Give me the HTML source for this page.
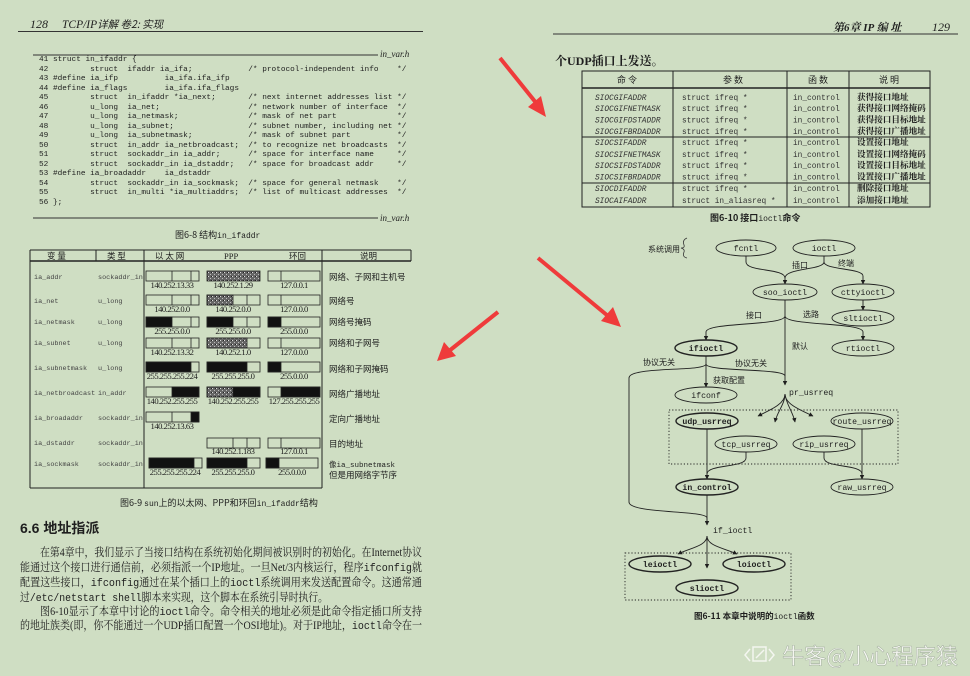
<!DOCTYPE html>
<html><head><meta charset="utf-8">
<style>
html,body{margin:0;padding:0}
body{width:970px;height:676px;background:#cfdec3;position:relative;overflow:hidden;font-family:"Liberation Serif","Noto Serif CJK SC",serif;color:#1e1e1e}
pre{position:absolute;margin:0;font-family:"Liberation Mono",monospace;font-size:7.75px;line-height:9.5px;color:#1e1e1e}
svg{position:absolute;left:0;top:0}
</style></head><body>
<pre style="left:39px;top:56px">41 struct in_ifaddr {
42         struct  ifaddr ia_ifa;            /* protocol-independent info    */
43 #define ia_ifp          ia_ifa.ifa_ifp
44 #define ia_flags        ia_ifa.ifa_flags
45         struct  in_ifaddr *ia_next;       /* next internet addresses list */
46         u_long  ia_net;                   /* network number of interface  */
47         u_long  ia_netmask;               /* mask of net part             */
48         u_long  ia_subnet;                /* subnet number, including net */
49         u_long  ia_subnetmask;            /* mask of subnet part          */
50         struct  in_addr ia_netbroadcast;  /* to recognize net broadcasts  */
51         struct  sockaddr_in ia_addr;      /* space for interface name     */
52         struct  sockaddr_in ia_dstaddr;   /* space for broadcast addr     */
53 #define ia_broadaddr    ia_dstaddr
54         struct  sockaddr_in ia_sockmask;  /* space for general netmask    */
55         struct  in_multi *ia_multiaddrs;  /* list of multicast addresses  */
56 };</pre>
<svg width="970" height="676" viewBox="0 0 970 676" xmlns="http://www.w3.org/2000/svg">
<defs>
<marker id="ar" viewBox="0 0 10 10" refX="9" refY="5" markerWidth="5" markerHeight="5" orient="auto"><path d="M0,0 L10,5 L0,10 z" fill="#1e1e1e"/></marker>
<pattern id="st" width="4" height="4" patternUnits="userSpaceOnUse"><rect width="4" height="4" fill="#666"/><rect x="0" y="0" width="1" height="1" fill="#ddd"/><rect x="2" y="2" width="1" height="1" fill="#bbb"/><rect x="3" y="0" width="1" height="1" fill="#222"/></pattern>
</defs>
<g font-family="Liberation Serif,Noto Serif CJK SC,serif" fill="#1e1e1e">
<text x="30" y="28" font-size="12" font-style="italic">128</text>
<text x="62" y="28" font-size="11.5" font-style="italic">TCP/IP<tspan font-family="Noto Sans CJK SC,sans-serif" font-size="10.5">详解  卷2: 实现</tspan></text>
<line x1="18" y1="31.5" x2="423" y2="31.5" stroke="#333" stroke-width="1"/>
<line x1="33" y1="55" x2="378" y2="55" stroke="#333" stroke-width="1"/>
<text x="380" y="57" font-size="9" font-style="italic">in_var.h</text>
<line x1="33" y1="218" x2="378" y2="218" stroke="#333" stroke-width="1"/>
<text x="380" y="221" font-size="9" font-style="italic">in_var.h</text>
<text x="175" y="238" font-size="9" font-family="Noto Sans CJK SC,sans-serif">图6-8  结构<tspan font-family="Liberation Mono,monospace" font-size="8">in_ifaddr</tspan></text>

<g stroke="#222" fill="none" stroke-width="1">
<line x1="30" y1="250" x2="411" y2="250"/>
<line x1="30" y1="261" x2="411" y2="261" stroke-width="1.6"/>
<line x1="30" y1="250" x2="30" y2="488"/>
<line x1="96" y1="250" x2="96" y2="261"/>
<line x1="144" y1="250" x2="144" y2="488"/>
<line x1="322" y1="250" x2="322" y2="488"/>
<line x1="411" y1="250" x2="411" y2="261"/>
<line x1="30" y1="488" x2="322" y2="488"/>
</g>
<g font-size="8.5" font-family="Noto Sans CJK SC,sans-serif">
<text x="47" y="259">变   量</text><text x="107" y="259">类   型</text><text x="155" y="259">以 太 网</text>
<text x="224" y="259" font-family="Liberation Serif,serif">PPP</text><text x="289" y="259">环回</text><text x="360" y="259">说明</text>
</g>
<g font-family="Liberation Mono,monospace" font-size="6.8" fill="#444">
<text x="34" y="279">ia_addr</text><text x="98" y="279">sockaddr_in</text>
<text x="34" y="303">ia_net</text><text x="98" y="303">u_long</text>
<text x="34" y="324">ia_netmask</text><text x="98" y="324">u_long</text>
<text x="34" y="345">ia_subnet</text><text x="98" y="345">u_long</text>
<text x="34" y="370">ia_subnetmask</text><text x="98" y="370">u_long</text>
<text x="34" y="395">ia_netbroadcast</text><text x="98" y="395">in_addr</text>
<text x="34" y="420">ia_broadaddr</text><text x="98" y="420">sockaddr_in</text>
<text x="34" y="445">ia_dstaddr</text><text x="98" y="445">sockaddr_in</text>
<text x="34" y="466">ia_sockmask</text><text x="98" y="466">sockaddr_in</text>
</g>
<g font-family="Noto Sans CJK SC,sans-serif" font-size="8.5">
<text x="329" y="280">网络、子网和主机号</text>
<text x="329" y="304">网络号</text>
<text x="329" y="325">网络号掩码</text>
<text x="329" y="346">网络和子网号</text>
<text x="329" y="372">网络和子网掩码</text>
<text x="329" y="397">网络广播地址</text>
<text x="329" y="422">定向广播地址</text>
<text x="329" y="447">目的地址</text>
<text x="329" y="467"><tspan font-family="Liberation Mono,monospace" font-size="7.5">像ia_subnetmask</tspan></text>
<text x="329" y="478">但是用网络字节序</text>
</g>
<g stroke="#222" stroke-width="0.8" fill="none">
<rect x="146" y="271" width="53" height="10"/><line x1="172" y1="271" x2="172" y2="281"/><line x1="191" y1="271" x2="191" y2="281"/>
<rect x="207" y="271" width="53" height="10" fill="url(#st)"/>
<rect x="268" y="271" width="52" height="10"/><line x1="281" y1="271" x2="281" y2="281"/>
<rect x="146" y="295" width="53" height="10"/><line x1="172" y1="295" x2="172" y2="305"/><line x1="191" y1="295" x2="191" y2="305"/>
<rect x="207" y="295" width="26" height="10" fill="url(#st)"/><rect x="207" y="295" width="53" height="10"/><line x1="247" y1="295" x2="247" y2="305"/>
<rect x="268" y="295" width="52" height="10"/><line x1="281" y1="295" x2="281" y2="305"/>
<rect x="146" y="317" width="26" height="10" fill="#111"/><rect x="146" y="317" width="53" height="10"/><line x1="191" y1="317" x2="191" y2="327"/>
<rect x="207" y="317" width="26" height="10" fill="#111"/><rect x="207" y="317" width="53" height="10"/><line x1="247" y1="317" x2="247" y2="327"/>
<rect x="268" y="317" width="13" height="10" fill="#111"/><rect x="268" y="317" width="52" height="10"/>
<rect x="146" y="338" width="53" height="10"/><line x1="172" y1="338" x2="172" y2="348"/><line x1="191" y1="338" x2="191" y2="348"/>
<rect x="207" y="338" width="40" height="10" fill="url(#st)"/><rect x="207" y="338" width="53" height="10"/>
<rect x="268" y="338" width="52" height="10"/><line x1="281" y1="338" x2="281" y2="348"/>
<rect x="146" y="362" width="45" height="10" fill="#111"/><rect x="146" y="362" width="53" height="10"/>
<rect x="207" y="362" width="40" height="10" fill="#111"/><rect x="207" y="362" width="53" height="10"/>
<rect x="268" y="362" width="13" height="10" fill="#111"/><rect x="268" y="362" width="52" height="10"/>
<rect x="172" y="387" width="27" height="10" fill="#111"/><rect x="146" y="387" width="53" height="10"/>
<rect x="207" y="387" width="26" height="10" fill="url(#st)"/><rect x="233" y="387" width="27" height="10" fill="#111"/><rect x="207" y="387" width="53" height="10"/>
<rect x="281" y="387" width="39" height="10" fill="#111"/><rect x="268" y="387" width="52" height="10"/>
<rect x="191" y="412" width="8" height="10" fill="#111"/><rect x="146" y="412" width="53" height="10"/><line x1="172" y1="412" x2="172" y2="422"/>
<rect x="207" y="438" width="53" height="10"/><line x1="233" y1="438" x2="233" y2="448"/><line x1="247" y1="438" x2="247" y2="448"/>
<rect x="268" y="438" width="52" height="10"/><line x1="281" y1="438" x2="281" y2="448"/>
<rect x="149" y="458" width="45" height="10" fill="#111"/><rect x="149" y="458" width="53" height="10"/>
<rect x="207" y="458" width="40" height="10" fill="#111"/><rect x="207" y="458" width="53" height="10"/>
<rect x="266" y="458" width="13" height="10" fill="#111"/><rect x="266" y="458" width="52" height="10"/>
</g>
<g font-size="8.6" letter-spacing="-0.5" text-anchor="middle">
<text x="172" y="288">140.252.13.33</text><text x="233" y="288">140.252.1.29</text><text x="294" y="288">127.0.0.1</text>
<text x="172" y="312">140.252.0.0</text><text x="233" y="312">140.252.0.0</text><text x="294" y="312">127.0.0.0</text>
<text x="172" y="334">255.255.0.0</text><text x="233" y="334">255.255.0.0</text><text x="294" y="334">255.0.0.0</text>
<text x="172" y="355">140.252.13.32</text><text x="233" y="355">140.252.1.0</text><text x="294" y="355">127.0.0.0</text>
<text x="172" y="379">255.255.255.224</text><text x="233" y="379">255.255.255.0</text><text x="294" y="379">255.0.0.0</text>
<text x="172" y="404">140.252.255.255</text><text x="233" y="404">140.252.255.255</text><text x="294" y="404">127.255.255.255</text>
<text x="172" y="429">140.252.13.63</text>
<text x="233" y="454">140.252.1.183</text><text x="294" y="454">127.0.0.1</text>
<text x="175" y="475">255.255.255.224</text><text x="233" y="475">255.255.255.0</text><text x="292" y="475">255.0.0.0</text>
</g>
<text x="120" y="506" font-size="9" font-family="Noto Sans CJK SC,sans-serif">图6-9  <tspan font-family="Liberation Mono,monospace" font-size="8">sun</tspan>上的以太网、PPP和环回<tspan font-family="Liberation Mono,monospace" font-size="8">in_ifaddr</tspan>结构</text>

<text x="20" y="533" font-size="14" font-weight="bold" font-family="Liberation Sans,Noto Sans CJK SC,sans-serif">6.6   地址指派</text>
<g font-size="11.3" font-family="Liberation Serif,Noto Serif CJK SC,serif">
<text x="40" y="556" textLength="382" lengthAdjust="spacingAndGlyphs">在第4章中，我们显示了当接口结构在系统初始化期间被识别时的初始化。在Internet协议</text>
<text x="20" y="571" textLength="402" lengthAdjust="spacingAndGlyphs">能通过这个接口进行通信前，必须指派一个IP地址。一旦Net/3内核运行，程序<tspan font-family="Liberation Mono,monospace">ifconfig</tspan>就</text>
<text x="20" y="586" textLength="402" lengthAdjust="spacingAndGlyphs">配置这些接口，<tspan font-family="Liberation Mono,monospace">ifconfig</tspan>通过在某个插口上的<tspan font-family="Liberation Mono,monospace">ioctl</tspan>系统调用来发送配置命令。这通常通</text>
<text x="20" y="601" textLength="308" lengthAdjust="spacingAndGlyphs">过<tspan font-family="Liberation Mono,monospace">/etc/netstart shell</tspan>脚本来实现，这个脚本在系统引导时执行。</text>
<text x="40" y="615" textLength="382" lengthAdjust="spacingAndGlyphs">图6-10显示了本章中讨论的<tspan font-family="Liberation Mono,monospace">ioctl</tspan>命令。命令相关的地址必须是此命令指定插口所支持</text>
<text x="20" y="629" textLength="402" lengthAdjust="spacingAndGlyphs">的地址族类(即，你不能通过一个UDP插口配置一个OSI地址)。对于IP地址，<tspan font-family="Liberation Mono,monospace">ioctl</tspan>命令在一</text>
</g>

<text x="833" y="31" font-size="11" font-style="italic" font-weight="bold" font-family="Liberation Serif,Noto Serif CJK SC,serif">第6章  IP   编   址</text>
<text x="932" y="31" font-size="12" font-style="italic">129</text>
<line x1="553" y1="34" x2="958" y2="34" stroke="#333" stroke-width="1"/>
<text x="555" y="65" font-size="12" font-weight="bold" font-family="Liberation Serif,Noto Serif CJK SC,serif">个UDP插口上发送。</text>

<g stroke="#222" fill="none" stroke-width="1">
<rect x="582" y="71" width="348" height="136"/>
<line x1="582" y1="88" x2="930" y2="88" stroke-width="1.6"/>
<line x1="673" y1="71" x2="673" y2="207"/>
<line x1="787" y1="71" x2="787" y2="207"/>
<line x1="849" y1="71" x2="849" y2="207"/>
<line x1="582" y1="137" x2="930" y2="137"/>
<line x1="582" y1="183" x2="930" y2="183"/>
</g>
<g font-size="9" font-family="Noto Sans CJK SC,sans-serif" text-anchor="middle">
<text x="627" y="83">命   令</text><text x="733" y="83">参   数</text><text x="818" y="83">函   数</text><text x="889" y="83">说   明</text>
</g>
<g font-family="Liberation Mono,monospace" font-size="7.8" font-style="italic" fill="#333">
<text x="595" y="100">SIOCGIFADDR</text><text x="595" y="111">SIOCGIFNETMASK</text><text x="595" y="122.5">SIOCGIFDSTADDR</text><text x="595" y="134">SIOCGIFBRDADDR</text>
<text x="595" y="145">SIOCSIFADDR</text><text x="595" y="157">SIOCSIFNETMASK</text><text x="595" y="168">SIOCSIFDSTADDR</text><text x="595" y="179.5">SIOCSIFBRDADDR</text>
<text x="595" y="191">SIOCDIFADDR</text><text x="595" y="203">SIOCAIFADDR</text>
</g>
<g font-family="Liberation Mono,monospace" font-size="7.8" fill="#333">
<text x="682" y="100">struct ifreq *</text><text x="682" y="111">struct ifreq *</text><text x="682" y="122.5">struct ifreq *</text><text x="682" y="134">struct ifreq *</text>
<text x="682" y="145">struct ifreq *</text><text x="682" y="157">struct ifreq *</text><text x="682" y="168">struct ifreq *</text><text x="682" y="179.5">struct ifreq *</text>
<text x="682" y="191">struct ifreq *</text><text x="682" y="203">struct in_aliasreq *</text>
<text x="793" y="100">in_control</text><text x="793" y="111">in_control</text><text x="793" y="122.5">in_control</text><text x="793" y="134">in_control</text>
<text x="793" y="145">in_control</text><text x="793" y="157">in_control</text><text x="793" y="168">in_control</text><text x="793" y="179.5">in_control</text>
<text x="793" y="191">in_control</text><text x="793" y="203">in_control</text>
</g>
<g font-size="8.6" font-family="Noto Serif CJK SC,serif" font-weight="bold">
<text x="857" y="100">获得接口地址</text><text x="857" y="111">获得接口网络掩码</text><text x="857" y="122.5">获得接口目标地址</text><text x="857" y="134">获得接口广播地址</text>
<text x="857" y="145">设置接口地址</text><text x="857" y="157">设置接口网络掩码</text><text x="857" y="168">设置接口目标地址</text><text x="857" y="179.5">设置接口广播地址</text>
<text x="857" y="191">删除接口地址</text><text x="857" y="203">添加接口地址</text>
</g>
<text x="710" y="221" font-size="9" font-weight="bold" font-family="Noto Sans CJK SC,sans-serif">图6-10  接口<tspan font-family="Liberation Mono,monospace" font-weight="normal" font-size="8">ioctl</tspan>命令</text>

<text x="648" y="252" font-size="8" font-family="Noto Sans CJK SC,sans-serif">系统调用</text>
<path d="M687,238 Q682,240 684,245 Q685,248 681,248 Q685,249 684,252 Q682,257 687,258" fill="none" stroke="#333" stroke-width="0.8"/>
<g stroke="#222" stroke-width="0.9" fill="none">
<ellipse cx="746" cy="248" rx="30" ry="8"/>
<ellipse cx="824" cy="248" rx="31" ry="8"/>
<ellipse cx="785" cy="292" rx="32" ry="8"/>
<ellipse cx="863" cy="292" rx="31" ry="8"/>
<ellipse cx="863" cy="318" rx="31" ry="8"/>
<ellipse cx="706" cy="348" rx="31" ry="8" stroke-width="1.4"/>
<ellipse cx="863" cy="348" rx="31" ry="8"/>
<ellipse cx="706" cy="395" rx="31" ry="8"/>
<ellipse cx="707" cy="421" rx="31" ry="8" stroke-width="1.4"/>
<ellipse cx="862" cy="421" rx="31" ry="8"/>
<ellipse cx="746" cy="444" rx="31" ry="8"/>
<ellipse cx="824" cy="444" rx="31" ry="8"/>
<ellipse cx="707" cy="487" rx="31" ry="8" stroke-width="1.4"/>
<ellipse cx="862" cy="487" rx="31" ry="8"/>
<ellipse cx="660" cy="564" rx="31" ry="8" stroke-width="1.4"/>
<ellipse cx="754" cy="564" rx="31" ry="8" stroke-width="1.4"/>
<ellipse cx="707" cy="588" rx="31" ry="8" stroke-width="1.4"/>
<rect x="669" y="410" width="229" height="54" stroke-dasharray="1.2,2"/>
<rect x="625" y="553" width="166" height="47" stroke-dasharray="1.2,2"/>
</g>
<g stroke="#222" stroke-width="0.9" fill="none">
<path d="M746,256 V262 C746,272 785,268 785,278 V284" marker-end="url(#ar)"/>
<path d="M824,256 V262 C824,270 785,268 785,278"/>
<path d="M824,262 C824,270 863,268 863,276 V284" marker-end="url(#ar)"/>
<path d="M863,300 V310" marker-end="url(#ar)"/>
<path d="M785,300 V316 C785,326 706,322 706,332 V340" marker-end="url(#ar)"/>
<path d="M785,316 C785,326 863,322 863,332 V340" marker-end="url(#ar)"/>
<path d="M785,316 V385" marker-end="url(#ar)"/>
<path d="M706,356 V387" marker-end="url(#ar)"/>
<path d="M706,364 C706,372 629,366 629,378 V502 C629,514 707,510 707,518 V525" marker-end="url(#ar)"/>
<path d="M706,364 C706,372 785,368 785,376"/>
<path d="M785,394 C785,404 770,410 758,416" marker-end="url(#ar)"/>
<path d="M785,394 C785,404 777,412 775,422" marker-end="url(#ar)"/>
<path d="M785,394 C786,404 793,412 795,422" marker-end="url(#ar)"/>
<path d="M785,394 C785,404 800,410 813,416" marker-end="url(#ar)"/>
<path d="M707,429 V479" marker-end="url(#ar)"/>
<path d="M746,452 V458 C746,468 707,464 707,474"/>
<path d="M862,429 V479" marker-end="url(#ar)"/>
<path d="M824,452 V458 C824,468 862,464 862,474"/>
<path d="M707,495 V525"/>
<path d="M707,536 C707,546 690,548 678,554" marker-end="url(#ar)"/>
<path d="M707,536 V568" marker-end="url(#ar)"/>
<path d="M707,536 C707,546 724,548 737,554" marker-end="url(#ar)"/>
</g>
<g font-family="Liberation Mono,monospace" font-size="8.2" text-anchor="middle">
<text x="746" y="251">fcntl</text><text x="824" y="251">ioctl</text>
<text x="785" y="295">soo_ioctl</text><text x="863" y="295">cttyioctl</text><text x="863" y="321">sltioctl</text>
<text x="706" y="351" font-weight="bold">ifioctl</text><text x="863" y="351">rtioctl</text>
<text x="706" y="398">ifconf</text>
<text x="707" y="424" font-weight="bold">udp_usrreq</text><text x="862" y="424">route_usrreq</text>
<text x="746" y="447">tcp_usrreq</text><text x="824" y="447">rip_usrreq</text>
<text x="707" y="490" font-weight="bold">in_control</text><text x="862" y="490">raw_usrreq</text>
<text x="660" y="567" font-weight="bold">leioctl</text><text x="754" y="567" font-weight="bold">loioctl</text><text x="707" y="591" font-weight="bold">slioctl</text>
</g>
<g font-family="Liberation Mono,monospace" font-size="8.2">
<text x="789" y="395">pr_usrreq</text>
<text x="713" y="533">if_ioctl</text>
</g>
<g font-family="Noto Sans CJK SC,sans-serif" font-size="8">
<text x="792" y="268">插口</text><text x="838" y="266">终端</text>
<text x="746" y="318">接口</text><text x="803" y="317">选路</text>
<text x="792" y="349">默认</text>
<text x="643" y="365">协议无关</text><text x="735" y="366">协议无关</text>
<text x="713" y="383">获取配置</text>
</g>
<text x="694" y="619" font-size="8.5" font-weight="bold" font-family="Noto Sans CJK SC,sans-serif">图6-11  本章中说明的<tspan font-family="Liberation Mono,monospace" font-weight="normal" font-size="8">ioctl</tspan>函数</text>
</g>

<g fill="#ef3b3b">
<line x1="500" y1="58" x2="537" y2="104" stroke="#ef3b3b" stroke-width="4"/>
<polygon points="546,117 528,107 541,96"/>
<line x1="538" y1="258" x2="608" y2="316" stroke="#ef3b3b" stroke-width="4"/>
<polygon points="621,327 601,321 613,307"/>
<line x1="498" y1="312" x2="449" y2="351" stroke="#ef3b3b" stroke-width="4"/>
<polygon points="437,361 444,342 456,356"/>
</g>

<g fill="none" stroke="#f4f6f0" stroke-width="1.5">
<rect x="753" y="647" width="13" height="14"/>
<path d="M750,649 L745,655 L750,661 M769,649 L774,655 L769,661 M756,658 L764,650"/>
</g>
<text x="782" y="664" font-size="22" textLength="176" lengthAdjust="spacingAndGlyphs" font-family="Noto Sans CJK SC,sans-serif" fill="#f4f6f0" stroke="#9aa596" stroke-width="0.4">牛客@小心程序猿</text>
</svg>
</body></html>
